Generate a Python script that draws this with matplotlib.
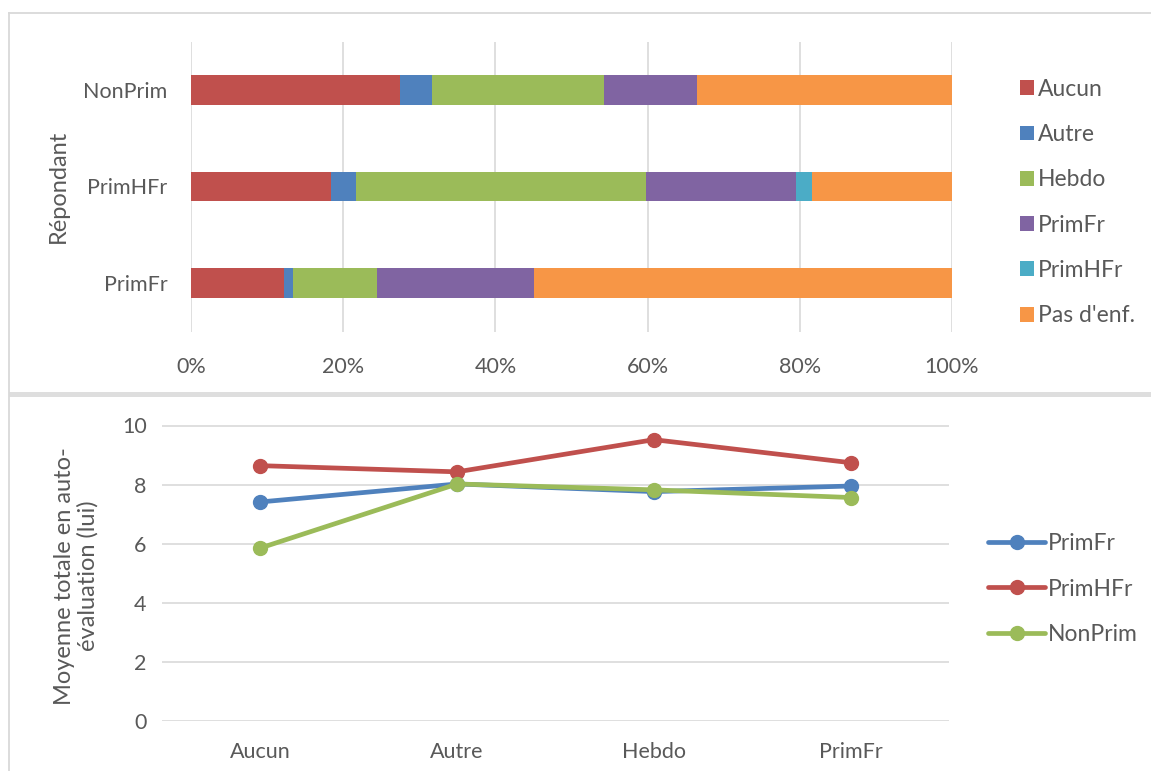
import matplotlib
matplotlib.use("Agg")
import matplotlib.pyplot as plt
from matplotlib.lines import Line2D
from matplotlib.patches import Rectangle
from matplotlib.ticker import PercentFormatter

plt.rcParams['font.family'] = ['Lato', 'DejaVu Sans']

# ---- data: share of responses by respondent group (stacked 100 %) ----
respondents = ["NonPrim", "PrimHFr", "PrimFr"]
answer_types = ["Aucun", "Autre", "Hebdo", "PrimFr", "PrimHFr", "Pas d'enf."]
share_aucun = [27.4, 18.4, 12.2]
share_autre = [4.3, 3.3, 1.2]
share_hebdo = [22.6, 38.1, 11.1]
share_primfr = [12.2, 19.7, 20.6]
share_primhfr = [0.0, 2.1, 0.0]
share_pasenf = [33.5, 18.4, 54.9]

# ---- data: mean self-evaluation score by answer type ----
score_categories = ["Aucun", "Autre", "Hebdo", "PrimFr"]
score_primfr = [7.41, 8.02, 7.76, 7.95]
score_primhfr = [8.64, 8.43, 9.52, 8.74]
score_nonprim = [5.85, 8.02, 7.82, 7.56]

TEXT = "#595959"
GRID = "#D9D9D9"
bar_colors = ["#C0504D", "#4F81BD", "#9BBB59", "#8064A2", "#4BACC6", "#F79646"]

W, H = 1151, 771
fig = plt.figure(figsize=(W / 100, H / 100), dpi=100)
fig.patch.set_facecolor("white")


def fx(px):
    return px / W


def fy(py):
    return 1 - py / H


FS = 15.5      # tick labels
FS_LEG = 16.5  # legend entries
FS_LAB = 17    # axis titles

# ---- chart frames ----
fig.add_artist(Line2D([fx(9), fx(9)], [fy(12.5), fy(771)], color=GRID, lw=1.3))
fig.add_artist(Line2D([fx(9), 1], [fy(12.5), fy(12.5)], color=GRID, lw=1.3))
fig.add_artist(Rectangle((fx(9), fy(397.3)), 1 - fx(9), (397.3 - 392.3) / H,
                         transform=fig.transFigure, facecolor="#DEDEDE",
                         edgecolor="none"))

# ---- top: stacked horizontal bars ----
ax1 = fig.add_axes([fx(191), fy(331.5), fx(952 - 191), (331.5 - 41.5) / H])
ypos = list(range(len(respondents)))[::-1]
series = [share_aucun, share_autre, share_hebdo, share_primfr, share_primhfr, share_pasenf]
left = [0.0] * len(respondents)
for name, vals, col in zip(answer_types, series, bar_colors):
    ax1.barh(ypos, vals, left=left, height=0.31, color=col, label=name, zorder=3)
    left = [a + b for a, b in zip(left, vals)]

ax1.set_xlim(0, 100)
ax1.set_ylim(-0.5, 2.5)
ax1.set_xticks([0, 20, 40, 60, 80, 100])
ax1.xaxis.set_major_formatter(PercentFormatter(decimals=0))
ax1.set_yticks(ypos)
ax1.set_yticklabels(respondents)
ax1.grid(axis="x", color=GRID, lw=1.2, zorder=0)
for s in ax1.spines.values():
    s.set_visible(False)
ax1.tick_params(axis="both", length=0, labelsize=FS, colors=TEXT)
ax1.tick_params(axis="x", pad=18.5)
ax1.tick_params(axis="y", pad=17)
ax1.set_ylabel("Répondant", fontsize=FS_LAB, color=TEXT, va="center", ha="center")
ax1.yaxis.set_label_coords((58 - 191) / (952 - 191), 0.5)

leg1 = ax1.legend(loc="center left", bbox_to_anchor=(fx(1020), fy(202.5)),
                  bbox_transform=fig.transFigure, frameon=False, fontsize=FS_LEG,
                  handlelength=0.62, handleheight=0.62, handletextpad=0.18,
                  labelspacing=1.06, borderpad=0, borderaxespad=0)
for t in leg1.get_texts():
    t.set_color(TEXT)

# ---- bottom: line chart ----
ax2 = fig.add_axes([fx(162), fy(720.7), fx(949 - 162), (720.7 - 425.5) / H])
xs = list(range(len(score_categories)))
for name, vals, col in [("PrimFr", score_primfr, "#4F81BD"),
                        ("PrimHFr", score_primhfr, "#C0504D"),
                        ("NonPrim", score_nonprim, "#9BBB59")]:
    ax2.plot(xs, vals, color=col, lw=3.4, marker="o", markersize=10,
             label=name, zorder=3, clip_on=False, solid_capstyle="round")

ax2.set_xlim(-0.5, 3.5)
ax2.set_ylim(0, 10)
ax2.set_yticks([0, 2, 4, 6, 8, 10])
ax2.set_xticks(xs)
ax2.set_xticklabels(score_categories)
ax2.grid(axis="y", color=GRID, lw=1.2, zorder=0)
for s in ax2.spines.values():
    s.set_visible(False)
ax2.tick_params(axis="both", length=0, labelsize=FS, colors=TEXT)
ax2.tick_params(axis="x", pad=15)
ax2.tick_params(axis="y", pad=11)
ax2.set_ylabel("Moyenne totale en auto-\névaluation (lui)", fontsize=FS_LAB,
               color=TEXT, va="center", ha="center", multialignment="center",
               linespacing=1.15)
ax2.yaxis.set_label_coords((76.5 - 162) / (949 - 162), 0.49)

leg2 = ax2.legend(loc="center left", bbox_to_anchor=(fx(988), fy(589)),
                  bbox_transform=fig.transFigure, frameon=False, fontsize=FS_LEG,
                  handlelength=2.5, handletextpad=0.12, labelspacing=1.06,
                  borderpad=0, borderaxespad=0)
for t in leg2.get_texts():
    t.set_color(TEXT)

fig.savefig("out.png", dpi=100, facecolor="white")
